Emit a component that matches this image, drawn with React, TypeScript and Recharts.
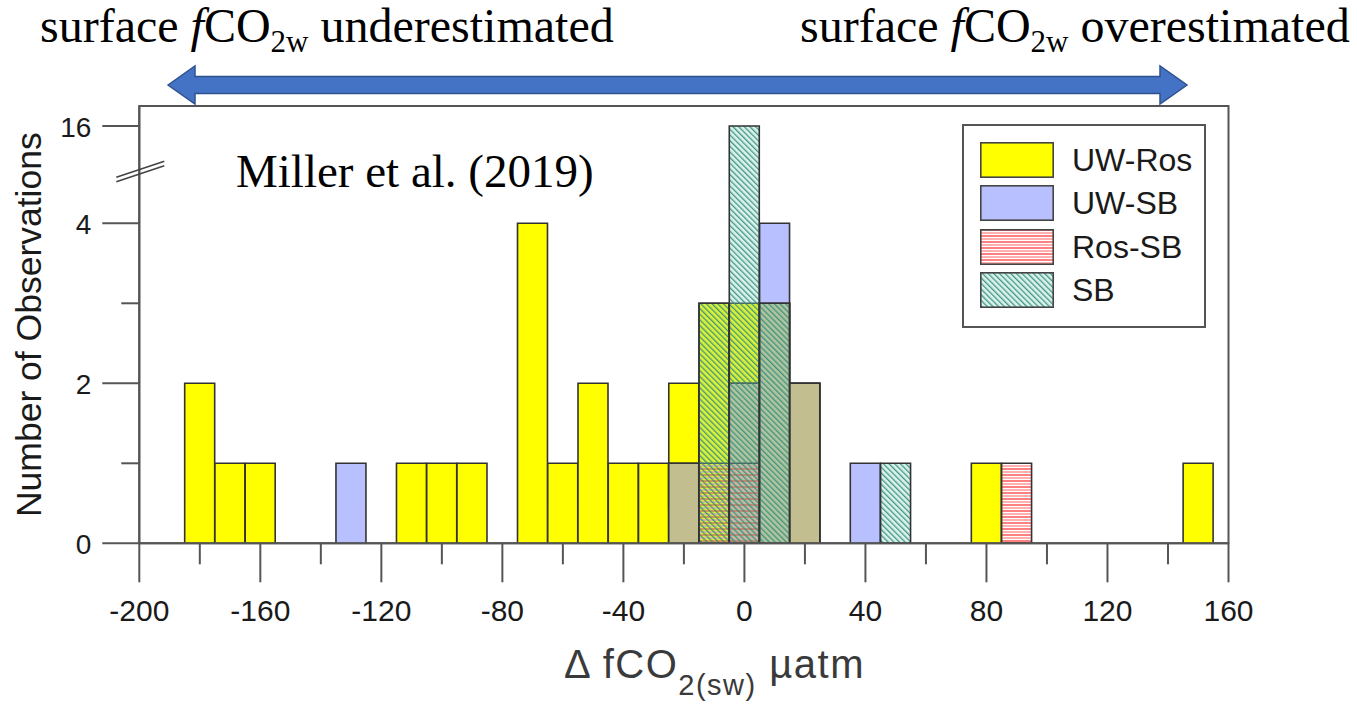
import React from "react";
import { BarChart, Bar, XAxis, YAxis, ReferenceArea, Legend, Label } from "recharts";

// histogram bins, 10 µatm wide, labelled by their centre
const binCenters = [
  -190, -180, -170, -160, -150, -140, -130, -120, -110, -100, -90, -80, -70, -60, -50, -40, -30, -20,
  -10, 0, 10, 20, 30, 40, 50, 60, 70, 80, 90, 100, 110, 120, 130, 140, 150,
];

// counts per bin for each comparison
const uwRos = [0, 2, 1, 1, 0, 0, 0, 0, 1, 1, 1, 0, 4, 1, 2, 1, 1, 2, 3, 3, 3, 2, 0, 0, 0, 0, 0, 1, 0, 0, 0, 0, 0, 0, 1];
const uwSb = [0, 0, 0, 0, 0, 0, 1, 0, 0, 0, 0, 0, 0, 0, 0, 0, 0, 1, 0, 2, 4, 2, 0, 1, 0, 0, 0, 0, 0, 0, 0, 0, 0, 0, 0];
const rosSb = [0, 0, 0, 0, 0, 0, 0, 0, 0, 0, 0, 0, 0, 0, 0, 0, 0, 0, 1, 1, 0, 0, 0, 0, 0, 0, 0, 0, 1, 0, 0, 0, 0, 0, 0];
const sb = [0, 0, 0, 0, 0, 0, 0, 0, 0, 0, 0, 0, 0, 0, 0, 0, 0, 0, 3, 16, 3, 0, 0, 0, 1, 0, 0, 0, 0, 0, 0, 0, 0, 0, 0];

const xTicks = [-200, -180, -160, -140, -120, -100, -80, -60, -40, -20, 0, 20, 40, 60, 80, 100, 120, 140, 160];
const yTickCounts = [0, 1, 2, 3, 4, 16];
const yLabelled = [0, 2, 4, 16];

// broken y axis: linear up to 4, then squeezed so 16 sits just above
const BREAK_FROM = 4;
const TOP_COUNT = 16;
const TOP_SHOWN = 5.216;
const Y_MAX = 5.466;
const BREAK_MARK = 4.62;
const squeeze = (v: number) =>
  v <= BREAK_FROM ? v : BREAK_FROM + ((v - BREAK_FROM) * (TOP_SHOWN - BREAK_FROM)) / (TOP_COUNT - BREAK_FROM);
const unsqueeze = (v: number) =>
  v <= BREAK_FROM ? v : BREAK_FROM + ((v - BREAK_FROM) * (TOP_COUNT - BREAK_FROM)) / (TOP_SHOWN - BREAK_FROM);
const shown = (v: number) => (v > 0 ? squeeze(v) : null);

const rows = binCenters.map((bin, i) => ({
  bin,
  uwRos: shown(uwRos[i]),
  uwSb: shown(uwSb[i]),
  both: shown(Math.min(uwRos[i], uwSb[i])),
  rosSb: shown(rosSb[i]),
  sb: shown(sb[i]),
}));

const W = 1357;
const H = 705;
const PLOT_L = 139.3;
const PLOT_R = 1228.5;
const PLOT_T = 106;
const PLOT_B = 543.3;
const Y_AXIS_W = 100;
const X_AXIS_H = 60;
const binPad = ((PLOT_R - PLOT_L) * 5) / 360;

const SANS = "'Liberation Sans', Arial, sans-serif";
const SERIF = "'Liberation Serif', 'Times New Roman', serif";
const EDGE = "#333";

const series = [
  { key: "uwRos", name: "UW-Ros", fill: "#ffff00", legend: true },
  { key: "uwSb", name: "UW-SB", fill: "#b9c0ff", legend: true },
  { key: "both", name: "UW-Ros & UW-SB", fill: "#c3be90", legend: false },
  { key: "rosSb", name: "Ros-SB", fill: "url(#rosSbLines)", legend: true },
  { key: "sb", name: "SB", fill: "url(#sbHatch)", legend: true },
];

const XTick = ({ x, y, payload }: any) => {
  const v = payload.value;
  const major = v % 40 === 0;
  return (
    <g>
      <line x1={x} x2={x} y1={y} y2={y + (major ? 39 : 21)} stroke="#555" strokeWidth={2} />
      {major && (
        <text x={x} y={y + 78} textAnchor="middle" fontSize={30} fontFamily={SANS} fill="#1a1a1a">
          {v}
        </text>
      )}
    </g>
  );
};

const YTick = ({ x, y, payload }: any) => {
  const v = payload.value;
  if (v === BREAK_MARK) {
    return (
      <g stroke="#444" strokeWidth={1.6}>
        <line x1={x - 23} y1={y + 8} x2={x + 25} y2={y - 8} />
        <line x1={x - 23} y1={y + 3.5} x2={x + 25} y2={y - 12.5} />
      </g>
    );
  }
  const count = Math.round(unsqueeze(v));
  const major = yLabelled.includes(count);
  return (
    <g>
      <line x1={x - (major ? 37 : 18)} x2={x} y1={y} y2={y} stroke="#555" strokeWidth={2} />
      {major && (
        <text x={x - 48} y={y + 10.5} textAnchor="end" fontSize={28} fontFamily={SANS} fill="#1a1a1a">
          {count}
        </text>
      )}
    </g>
  );
};

const LegendBox = () => (
  <div
    style={{
      boxSizing: "border-box",
      width: 244,
      height: 204,
      border: "2px solid #555",
      background: "#fff",
      padding: "12px 0 0 16px",
      fontFamily: SANS,
    }}
  >
    {series
      .filter((s) => s.legend)
      .map((s) => (
        <div key={s.key} style={{ display: "flex", alignItems: "center", height: 43.5 }}>
          <svg width={74} height={36} style={{ display: "block" }}>
            <rect x={0.8} y={0.8} width={72.4} height={34.4} fill="#fff" />
            <rect x={0.8} y={0.8} width={72.4} height={34.4} fill={s.fill} stroke="#444" strokeWidth={1.6} />
          </svg>
          <span style={{ marginLeft: 18, fontSize: 32, color: "#1a1a1a", lineHeight: 1 }}>{s.name}</span>
        </div>
      ))}
  </div>
);

const Heading = ({ x, word }: { x: number; word: string }) => (
  <text x={x} y={42} fontFamily={SERIF} fontSize={48} fill="#000">
    {"surface "}
    <tspan fontStyle="italic">f</tspan>
    {"CO"}
    <tspan fontSize={31} dy={10}>
      2w
    </tspan>
    <tspan dy={-10}>{" " + word}</tspan>
  </text>
);

export default function App() {
  return (
    <div style={{ position: "absolute", left: 0, top: 0, width: W, height: H, background: "#fff" }}>
      <BarChart
        width={W}
        height={H}
        data={rows}
        barCategoryGap={0}
        barGap={0}
        margin={{ top: PLOT_T, right: W - PLOT_R, left: PLOT_L - Y_AXIS_W, bottom: H - PLOT_B - X_AXIS_H }}
        style={{ position: "absolute", left: 0, top: 0 }}
      >
        <defs>
          <pattern id="rosSbLines" patternUnits="userSpaceOnUse" width={6} height={6}>
            <line x1={0} x2={6} y1={1} y2={1} stroke="#ff2a2a" strokeWidth={1.2} />
            <line x1={0} x2={6} y1={4} y2={4} stroke="#ff9c9c" strokeWidth={1.6} />
          </pattern>
          <pattern id="sbHatch" patternUnits="userSpaceOnUse" width={4} height={4} patternTransform="rotate(-45)">
            <rect width={4} height={4} fill="#8fd3c3" fillOpacity={0.3} />
            <line x1={0.7} y1={0} x2={0.7} y2={4} stroke="#2f8f7a" strokeWidth={1.2} />
          </pattern>
        </defs>

        {series.map((s) => (
          <XAxis
            key={s.key}
            xAxisId={s.key}
            dataKey="bin"
            type="category"
            hide
            height={0}
            padding={{ left: binPad, right: binPad }}
          />
        ))}
        <XAxis
          xAxisId="num"
          dataKey="bin"
          type="number"
          domain={[-200, 160]}
          allowDataOverflow
          ticks={xTicks}
          interval={0}
          height={X_AXIS_H}
          tickSize={0}
          tickMargin={0}
          tickLine={false}
          axisLine={{ stroke: "#555", strokeWidth: 2 }}
          tick={<XTick />}
        >
          <Label
            content={() => (
              <text x={564} y={678} fontFamily={SANS} fontSize={40} letterSpacing={1.5} fill="#3a3a3a">
                {"Δ fCO"}
                <tspan fontSize={29} dy={17}>
                  2(sw)
                </tspan>
                <tspan dy={-17}>{" µatm"}</tspan>
              </text>
            )}
          />
        </XAxis>
        <YAxis
          type="number"
          domain={[0, Y_MAX]}
          allowDataOverflow
          ticks={[...yTickCounts.map(squeeze), BREAK_MARK]}
          interval={0}
          width={Y_AXIS_W}
          tickSize={0}
          tickMargin={0}
          tickLine={false}
          axisLine={{ stroke: "#555", strokeWidth: 2 }}
          tick={<YTick />}
        >
          <Label
            content={() => (
              <text
                x={41}
                y={(PLOT_T + PLOT_B) / 2}
                transform={`rotate(-90 41 ${(PLOT_T + PLOT_B) / 2})`}
                textAnchor="middle"
                fontFamily={SANS}
                fontSize={35.5}
                fill="#1a1a1a"
              >
                Number of Observations
              </text>
            )}
          />
        </YAxis>

        <ReferenceArea
          xAxisId="num"
          x1={-200}
          x2={160}
          y1={0}
          y2={Y_MAX}
          fill="none"
          stroke="#555"
          strokeWidth={2}
          ifOverflow="visible"
        />

        {series.map((s) => (
          <Bar
            key={s.key}
            dataKey={s.key}
            name={s.name}
            xAxisId={s.key}
            fill={s.fill}
            stroke={EDGE}
            strokeWidth={1.6}
            legendType={s.legend ? "rect" : "none"}
            isAnimationActive={false}
          />
        ))}

        <Legend
          layout="vertical"
          align="center"
          verticalAlign="middle"
          content={<LegendBox />}
          wrapperStyle={{ left: 962, top: 124, width: 244, height: 204 }}
        />
      </BarChart>

      <svg width={W} height={H} style={{ position: "absolute", left: 0, top: 0, pointerEvents: "none" }}>
        <Heading x={40} word="underestimated" />
        <Heading x={800} word="overestimated" />
        <polygon
          points="168,85 195,66 195,76.5 1160,76.5 1160,66 1187,85 1160,104 1160,93.5 195,93.5 195,104"
          fill="#4472c4"
          stroke="#2f528f"
          strokeWidth={1.5}
        />
        <text x={236} y={187} fontFamily={SERIF} fontSize={47} fill="#000">
          Miller et al. (2019)
        </text>
      </svg>
    </div>
  );
}
